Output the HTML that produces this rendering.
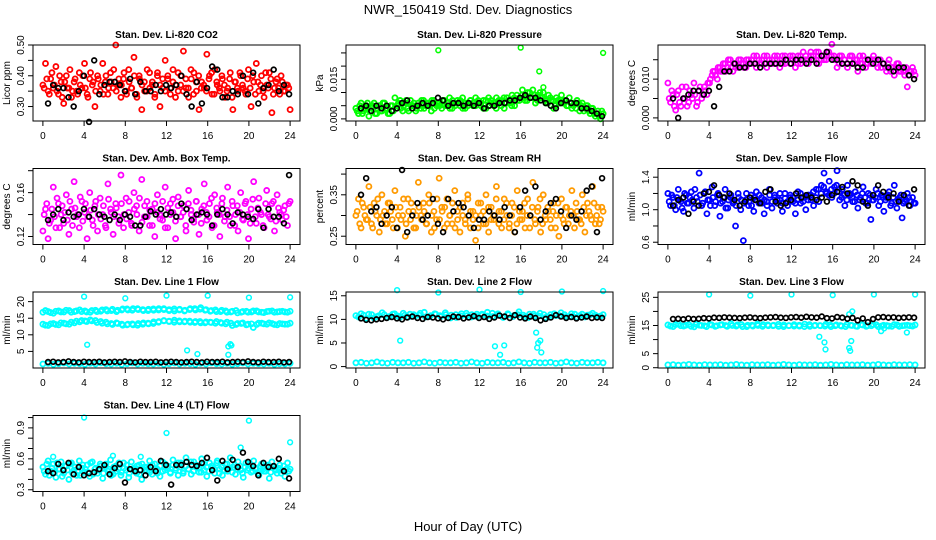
<!DOCTYPE html>
<html><head><meta charset="utf-8"><style>
html,body{margin:0;padding:0;background:#fff;}
svg{display:block;font-family:"Liberation Sans",Arial,sans-serif;}
</style></head><body>
<svg id="chart" width="936" height="540" viewBox="0 0 936 540">
<rect x="0" y="0" width="936" height="540" fill="#fff"/>
<text x="468" y="14" text-anchor="middle" font-size="13">NWR_150419  Std. Dev. Diagnostics</text>
<text x="468" y="531" text-anchor="middle" font-size="13">Hour of Day (UTC)</text>
</svg>
<script>
// ---- data arrays ----
const hourTicks = [0,4,8,12,16,20,24];

const co2Red = [0.37,0.44,0.35,0.39,0.36,0.43,0.34,0.38,0.31,0.40,0.36,0.33,0.38,0.35,0.41,0.36,0.44,0.34,0.39,0.37,0.30,0.40,0.35,0.44,0.38,0.34,0.41,0.36,0.50,0.37,0.33,0.39,0.35,0.42,0.36,0.46,0.34,0.40,0.29,0.38,0.35,0.41,0.37,0.33,0.40,0.30,0.36,0.45,0.39,0.34,0.42,0.37,0.35,0.40,0.48,0.36,0.33,0.39,0.41,0.35,0.29,0.38,0.36,0.47,0.40,0.34,0.42,0.37,0.35,0.39,0.33,0.36,0.41,0.29,0.38,0.35,0.40,0.36,0.34,0.42,0.30,0.38,0.44,0.35,0.40,0.33,0.37,0.41,0.28,0.36,0.39,0.34,0.38,0.35,0.37,0.29];
const co2Red2 = [0.36,0.39,0.34,0.41,0.37,0.35,0.40,0.33,0.38,0.36,0.42,0.35,0.39,0.34,0.37,0.40,0.36,0.33,0.41,0.38,0.35,0.39,0.37,0.34,0.40,0.36,0.38,0.42,0.35,0.39,0.37,0.41,0.34,0.38,0.36,0.40,0.33,0.39,0.37,0.35,0.42,0.36,0.38,0.34,0.41,0.37,0.39,0.35,0.40,0.36,0.38,0.33,0.41,0.37,0.35,0.39,0.36,0.42,0.34,0.38,0.40,0.36,0.37,0.35,0.39,0.41,0.34,0.38,0.36,0.40,0.37,0.35,0.39,0.33,0.38,0.36,0.41,0.37,0.35,0.39,0.36,0.40,0.34,0.38,0.37,0.35,0.41,0.36,0.39,0.34,0.38,0.36,0.40,0.35,0.37,0.36];
const co2Black = [0.31,0.37,0.36,0.36,0.33,0.30,0.35,0.40,0.25,0.45,0.34,0.37,0.38,0.38,0.37,0.35,0.39,0.34,0.38,0.35,0.35,0.37,0.35,0.37,0.36,0.37,0.40,0.34,0.30,0.38,0.31,0.36,0.43,0.42,0.33,0.33,0.35,0.34,0.40,0.34,0.41,0.31,0.36,0.37,0.42,0.35,0.37,0.34];

const presGreen = [0.004,0.002,0.006,0.003,0.005,0.001,0.004,0.006,0.002,0.005,0.003,0.006,0.004,0.002,0.005,0.008,0.005,0.007,0.003,0.006,0.004,0.007,0.005,0.003,0.006,0.004,0.007,0.005,0.006,0.003,0.007,0.005,0.006,0.004,0.007,0.005,0.008,0.004,0.006,0.007,0.005,0.008,0.004,0.006,0.007,0.005,0.008,0.006,0.005,0.007,0.004,0.008,0.006,0.005,0.008,0.006,0.007,0.004,0.008,0.006,0.009,0.005,0.007,0.008,0.011,0.007,0.010,0.008,0.011,0.006,0.009,0.008,0.010,0.006,0.009,0.007,0.004,0.008,0.006,0.009,0.007,0.005,0.008,0.004,0.006,0.007,0.003,0.006,0.004,0.005,0.002,0.004,0.001,0.003,0.000,0.002];
const presGreen2 = [0.003,0.005,0.002,0.004,0.006,0.003,0.005,0.002,0.004,0.003,0.006,0.004,0.002,0.005,0.003,0.004,0.006,0.004,0.005,0.007,0.003,0.005,0.006,0.004,0.005,0.007,0.004,0.006,0.005,0.007,0.004,0.006,0.005,0.007,0.005,0.006,0.004,0.007,0.005,0.006,0.007,0.004,0.006,0.005,0.007,0.006,0.005,0.007,0.006,0.004,0.007,0.005,0.007,0.006,0.004,0.007,0.005,0.008,0.006,0.007,0.005,0.008,0.009,0.007,0.009,0.008,0.007,0.010,0.008,0.009,0.007,0.010,0.008,0.007,0.006,0.008,0.007,0.005,0.007,0.006,0.006,0.007,0.005,0.006,0.005,0.004,0.006,0.005,0.003,0.005,0.003,0.004,0.002,0.002,0.001,0.003];
const presOutHours = [8,16,17.8,24,18.2];
const presOutVals = [0.026,0.027,0.018,0.025,0.012];
const presBlack = [0.004,0.005,0.003,0.005,0.004,0.005,0.003,0.004,0.006,0.007,0.004,0.005,0.006,0.005,0.006,0.008,0.007,0.005,0.006,0.006,0.005,0.006,0.005,0.006,0.004,0.005,0.005,0.006,0.006,0.007,0.007,0.008,0.009,0.008,0.008,0.007,0.006,0.005,0.004,0.006,0.007,0.006,0.006,0.004,0.004,0.003,0.002,0.001];

const tempMag = [0.009,0.004,0.006,0.002,0.007,0.003,0.005,0.008,0.004,0.006,0.009,0.003,0.007,0.005,0.008,0.006,0.009,0.011,0.012,0.010,0.013,0.012,0.014,0.013,0.015,0.012,0.014,0.013,0.015,0.014,0.013,0.015,0.014,0.016,0.013,0.015,0.014,0.016,0.013,0.015,0.014,0.016,0.015,0.013,0.016,0.014,0.015,0.016,0.015,0.013,0.016,0.014,0.017,0.015,0.014,0.016,0.015,0.017,0.014,0.016,0.015,0.017,0.016,0.019,0.015,0.013,0.016,0.014,0.015,0.013,0.016,0.014,0.015,0.012,0.014,0.016,0.013,0.015,0.014,0.016,0.014,0.015,0.013,0.014,0.012,0.015,0.013,0.011,0.014,0.012,0.013,0.011,0.008,0.012,0.013,0.011];
const tempMag2 = [0.005,0.007,0.003,0.006,0.004,0.008,0.005,0.003,0.007,0.005,0.006,0.004,0.008,0.006,0.007,0.009,0.010,0.012,0.011,0.013,0.012,0.014,0.012,0.015,0.013,0.014,0.013,0.015,0.014,0.013,0.015,0.014,0.015,0.014,0.016,0.014,0.015,0.014,0.016,0.014,0.015,0.014,0.016,0.015,0.014,0.016,0.015,0.014,0.016,0.015,0.014,0.016,0.015,0.016,0.015,0.017,0.016,0.015,0.017,0.015,0.016,0.015,0.017,0.016,0.016,0.015,0.014,0.016,0.015,0.014,0.015,0.016,0.014,0.015,0.016,0.014,0.015,0.014,0.015,0.015,0.015,0.013,0.015,0.014,0.013,0.014,0.012,0.013,0.013,0.014,0.012,0.012,0.013,0.011,0.012,0.012];
const tempBlack = [0.005,0.000,0.005,0.006,0.007,0.007,0.006,0.007,0.003,0.008,0.012,0.012,0.014,0.013,0.013,0.014,0.014,0.013,0.014,0.014,0.014,0.014,0.015,0.014,0.015,0.015,0.014,0.015,0.014,0.016,0.017,0.015,0.015,0.014,0.014,0.014,0.013,0.013,0.015,0.014,0.015,0.014,0.013,0.012,0.013,0.013,0.011,0.010];

const ambMag = [0.125,0.145,0.118,0.135,0.165,0.128,0.150,0.140,0.132,0.158,0.122,0.145,0.170,0.138,0.128,0.152,0.142,0.118,0.160,0.135,0.148,0.125,0.155,0.140,0.130,0.168,0.145,0.122,0.150,0.138,0.176,0.128,0.155,0.142,0.132,0.160,0.148,0.125,0.172,0.138,0.152,0.130,0.145,0.120,0.158,0.140,0.135,0.165,0.128,0.150,0.142,0.118,0.156,0.138,0.148,0.125,0.162,0.140,0.133,0.152,0.122,0.145,0.168,0.135,0.150,0.128,0.158,0.142,0.120,0.155,0.138,0.165,0.130,0.148,0.140,0.125,0.160,0.135,0.152,0.118,0.145,0.170,0.132,0.155,0.140,0.128,0.162,0.138,0.150,0.125,0.158,0.142,0.135,0.148,0.130,0.152];
const ambMag2 = [0.140,0.150,0.132,0.145,0.138,0.155,0.128,0.148,0.142,0.135,0.152,0.130,0.146,0.140,0.156,0.134,0.150,0.138,0.144,0.130,0.152,0.140,0.136,0.148,0.128,0.154,0.142,0.138,0.146,0.132,0.150,0.140,0.136,0.152,0.130,0.145,0.140,0.155,0.133,0.148,0.138,0.144,0.130,0.150,0.142,0.136,0.152,0.128,0.146,0.140,0.154,0.134,0.148,0.138,0.142,0.130,0.150,0.144,0.136,0.152,0.140,0.132,0.148,0.142,0.138,0.155,0.130,0.146,0.140,0.150,0.134,0.144,0.138,0.152,0.130,0.148,0.142,0.136,0.150,0.140,0.132,0.154,0.138,0.146,0.142,0.130,0.150,0.140,0.136,0.152,0.134,0.146,0.140,0.144,0.138,0.150];
const ambBlack = [0.135,0.140,0.145,0.135,0.142,0.138,0.140,0.145,0.138,0.145,0.140,0.138,0.135,0.140,0.135,0.140,0.138,0.130,0.130,0.138,0.143,0.140,0.145,0.140,0.142,0.138,0.150,0.145,0.135,0.140,0.142,0.140,0.130,0.140,0.145,0.140,0.132,0.142,0.140,0.138,0.136,0.145,0.128,0.145,0.138,0.138,0.132,0.176];

const rhOrange = [0.30,0.34,0.27,0.32,0.29,0.37,0.28,0.33,0.30,0.26,0.35,0.31,0.28,0.33,0.29,0.36,0.27,0.32,0.30,0.25,0.34,0.29,0.31,0.27,0.38,0.30,0.33,0.28,0.35,0.26,0.31,0.29,0.39,0.32,0.27,0.34,0.30,0.28,0.36,0.31,0.26,0.33,0.29,0.35,0.27,0.31,0.24,0.33,0.30,0.28,0.35,0.26,0.32,0.29,0.37,0.31,0.27,0.34,0.30,0.28,0.33,0.26,0.36,0.29,0.31,0.27,0.34,0.30,0.38,0.28,0.32,0.26,0.35,0.29,0.31,0.27,0.33,0.30,0.25,0.34,0.28,0.32,0.30,0.36,0.27,0.31,0.29,0.35,0.26,0.33,0.30,0.37,0.28,0.32,0.29,0.31];
const rhOrange2 = [0.31,0.28,0.33,0.30,0.29,0.32,0.27,0.31,0.34,0.29,0.30,0.28,0.33,0.31,0.27,0.32,0.30,0.29,0.34,0.28,0.31,0.33,0.27,0.30,0.32,0.29,0.31,0.28,0.33,0.30,0.27,0.34,0.29,0.31,0.32,0.28,0.30,0.33,0.27,0.29,0.32,0.30,0.28,0.34,0.31,0.29,0.30,0.27,0.33,0.31,0.28,0.32,0.29,0.30,0.34,0.28,0.31,0.29,0.33,0.27,0.30,0.32,0.28,0.31,0.29,0.33,0.30,0.27,0.32,0.29,0.31,0.34,0.28,0.30,0.32,0.29,0.31,0.27,0.33,0.30,0.29,0.32,0.28,0.31,0.30,0.33,0.29,0.28,0.32,0.30,0.31,0.29,0.33,0.30,0.28,0.32];
const rhBlack = [0.35,0.39,0.31,0.32,0.28,0.30,0.32,0.27,0.41,0.26,0.30,0.33,0.29,0.30,0.34,0.28,0.26,0.34,0.31,0.33,0.32,0.30,0.27,0.29,0.29,0.31,0.30,0.29,0.32,0.30,0.26,0.32,0.36,0.30,0.37,0.29,0.31,0.33,0.34,0.31,0.27,0.30,0.29,0.31,0.36,0.37,0.26,0.39];

const flowBlue = [1.20,1.05,1.15,1.00,1.25,1.10,0.98,1.18,1.08,1.22,1.02,1.15,1.45,1.05,1.20,0.95,1.12,1.28,1.05,1.18,0.92,1.10,1.25,1.02,1.15,1.08,0.80,1.20,1.00,0.62,1.12,1.05,1.18,0.98,1.22,1.08,1.15,0.95,1.10,1.25,1.02,1.18,1.08,1.12,0.98,1.20,1.05,1.15,1.10,0.95,1.22,1.08,1.15,1.00,1.18,1.12,1.05,1.25,1.10,1.30,1.45,1.20,1.35,1.15,1.28,1.48,1.12,1.25,1.05,1.30,1.18,1.10,1.22,1.02,1.15,1.28,1.08,1.20,0.88,1.12,1.25,1.05,1.18,0.98,1.15,1.22,1.08,1.30,1.02,1.15,0.90,1.10,1.20,1.05,1.15,1.08];
const flowBlue2 = [1.10,1.18,1.05,1.15,1.12,1.02,1.20,1.08,1.15,1.12,1.25,1.10,1.18,1.08,1.22,1.12,1.05,1.15,1.10,1.20,1.08,1.15,1.02,1.12,1.18,1.10,1.05,1.15,1.12,1.08,1.20,1.10,1.05,1.15,1.12,1.18,1.08,1.12,1.05,1.18,1.10,1.15,1.12,1.20,1.08,1.14,1.10,1.18,1.15,1.08,1.12,1.20,1.10,1.16,1.12,1.18,1.22,1.15,1.25,1.20,1.28,1.22,1.18,1.25,1.20,1.30,1.22,1.15,1.18,1.12,1.20,1.15,1.10,1.18,1.12,1.20,1.15,1.08,1.18,1.12,1.15,1.20,1.10,1.15,1.12,1.18,1.05,1.15,1.10,1.12,1.18,1.08,1.12,1.15,1.10,1.08];
const flowBlack = [1.05,1.12,1.15,0.95,1.10,1.05,1.20,1.22,1.30,1.18,1.15,1.20,1.12,1.05,1.10,1.15,1.12,1.08,1.22,1.25,1.10,1.05,1.08,1.12,1.20,1.15,1.18,1.15,1.12,1.15,1.10,1.18,1.22,1.28,1.20,1.35,1.30,1.10,1.05,1.18,1.30,1.22,1.15,1.20,1.10,1.18,1.05,1.25];

const l1Upper = [16.8,17.0,16.5,17.2,16.9,17.3,17.0,17.5,17.2,16.8,17.4,17.1,17.6,17.3,17.0,17.5,17.8,17.4,17.9,17.6,17.3,17.8,17.5,17.9,17.6,17.2,17.7,17.4,17.9,17.5,18.2,17.6,17.3,17.0,17.4,16.8,17.1,16.6,17.0,16.8,17.2,16.9,16.7,17.1,16.8,17.0,16.9,17.1];
const l1Upper2 = [17.3,16.7,17.1,16.9,17.4,16.8,17.2,17.0,16.9,17.3,17.0,17.5,17.2,17.7,17.4,17.8,17.5,17.9,17.6,17.3,17.7,17.4,17.9,17.6,17.3,17.8,17.5,17.2,17.6,17.9,17.7,17.4,17.1,17.5,17.0,17.2,16.9,17.3,16.8,17.1,16.9,17.2,16.8,17.0,17.2,16.9,17.1,16.8];
const l1Lower = [13.2,12.8,13.4,13.0,13.5,13.2,13.6,13.9,14.2,14.5,14.3,14.0,13.8,13.4,13.6,13.2,13.0,13.3,12.9,13.2,13.5,13.4,13.8,14.2,14.0,14.4,13.9,14.1,13.8,14.0,13.6,13.9,13.7,14.0,13.5,13.8,12.8,13.4,13.6,13.2,12.2,13.5,13.3,13.6,13.1,13.4,13.2,13.5];
const l1Lower2 = [12.9,13.3,13.1,13.6,13.3,13.8,14.1,14.3,14.0,14.2,13.7,13.5,13.3,13.1,13.4,12.9,13.2,13.0,13.4,13.6,13.3,13.9,14.0,14.3,14.1,13.8,14.2,13.9,14.1,13.7,14.0,13.6,13.8,13.5,13.7,13.3,13.5,13.1,13.4,13.0,13.3,13.1,13.5,13.2,13.4,13.0,13.3,13.2];
const l1Low = [1.2,1.4,1.1,1.3,1.5,1.2,1.4,1.3,1.1,1.4,1.2,1.5,1.3,1.2,1.4,1.1,1.3,1.5,1.2,1.4,1.3,1.2,1.4,1.1,1.3,1.5,1.2,1.4,1.3,1.1,1.4,1.2,1.5,1.3,1.2,1.4,1.1,1.3,1.5,1.2,1.4,1.3,1.2,1.4,1.1,1.3,1.2,1.4];
const l1OutHours = [4,8,12,16,20,24,4.3,14,15,18,18.2,18,18.3];
const l1OutVals = [21.5,21.0,21.8,21.8,21.2,21.3,7.0,5.3,4.2,6.5,7.2,4.0,6.8];
const l1Black = [1.8,1.9,1.7,1.8,2.0,1.8,1.7,1.9,1.8,1.8,1.9,1.7,1.8,1.9,1.8,2.0,1.8,1.7,1.9,1.8,1.8,1.9,1.7,1.8,1.9,1.8,1.7,1.8,1.9,1.8,1.7,1.9,1.8,1.8,1.9,1.7,1.8,1.9,1.8,2.0,1.8,1.7,1.9,1.8,1.8,1.9,1.7,1.8];

const l2Band = [10.8,11.2,10.2,11.0,10.6,11.4,10.4,11.1,10.7,11.3,10.5,11.0,10.9,11.5,10.6,11.2,10.8,11.4,10.3,11.0,10.7,11.3,10.5,11.1,10.9,11.5,10.6,11.2,10.4,11.0,10.8,11.6,10.5,11.1,10.7,11.3,10.4,11.0,10.8,11.4,10.6,11.2,10.5,11.1,10.9,11.3,10.6,11.0];
const l2Band2 = [10.5,10.9,11.1,10.3,10.8,11.0,10.6,11.2,10.4,10.9,11.1,10.7,11.3,10.5,10.8,11.1,10.6,11.0,10.9,10.4,11.2,10.8,11.0,10.6,11.1,10.7,11.3,10.9,10.5,11.2,10.6,11.0,10.9,10.4,11.1,10.7,11.0,10.5,11.2,10.8,11.0,10.6,11.1,10.8,10.5,11.0,10.9,10.7];
const l2Low = [0.8,0.9,0.7,0.8,1.0,0.8,0.7,0.9,0.8,0.8,0.9,0.7,0.8,1.0,0.8,0.7,0.9,0.8,0.8,0.9,0.7,0.8,1.0,0.8,0.7,0.9,0.8,0.8,0.9,0.7,0.8,1.0,0.8,0.7,0.9,0.8,0.8,0.9,0.7,0.8,1.0,0.8,0.7,0.9,0.8,0.8,0.9,0.8];
const l2OutHours = [4,8,12,16,20,24,4.3,13.5,14.4,14,17.5,17.7,17.9,18,17.6];
const l2OutVals = [16.2,15.7,16.3,15.8,15.9,16.0,5.5,4.3,4.5,2.5,7.2,5.0,5.5,3.0,4.0];
const l2Black = [10.2,9.9,9.8,10.0,10.1,10.3,10.5,10.2,10.0,10.4,10.6,10.3,10.1,10.5,10.4,10.2,10.0,10.3,10.6,10.5,10.2,10.4,10.7,10.3,10.5,10.1,10.4,10.8,10.6,10.3,10.9,10.4,10.2,10.6,10.3,9.8,10.1,10.4,10.9,10.6,10.3,10.5,10.2,10.4,10.6,10.3,10.4,10.3];

const l3Band = [15.2,14.6,15.5,14.8,15.3,14.5,15.1,14.9,15.4,14.7,15.2,15.0,15.6,14.8,15.3,14.6,15.1,15.5,14.7,15.2,14.9,15.4,14.6,15.0,15.3,14.8,15.5,14.7,15.1,14.9,15.4,14.6,15.2,14.8,15.3,15.0,14.7,15.2,14.9,15.4,14.6,15.1,14.8,15.3,14.7,15.0,14.9,15.2];
const l3Band2 = [14.8,15.3,14.9,15.1,14.7,15.4,15.0,14.6,15.2,14.9,15.3,14.7,15.0,15.2,14.6,15.1,14.8,15.0,15.3,14.9,15.1,14.7,15.2,14.9,14.8,15.1,14.6,15.3,14.9,15.0,14.8,15.2,14.9,15.0,14.6,15.1,14.8,15.3,14.7,14.9,15.2,14.8,15.0,14.7,15.2,14.9,15.1,14.8];
const l3Low = [1.0,1.1,0.9,1.0,1.2,1.0,0.9,1.1,1.0,1.0,1.1,0.9,1.0,1.2,1.0,0.9,1.1,1.0,1.0,1.1,0.9,1.0,1.2,1.0,0.9,1.1,1.0,1.0,1.1,0.9,1.0,1.2,1.0,0.9,1.1,1.0,1.0,1.1,0.9,1.0,1.2,1.0,0.9,1.1,1.0,1.0,1.1,1.0];
const l3OutHours = [4,8,12,16,20,24,14.7,15.2,15.3,17.6,17.8,17.7,17.9,20.7,21,23.2,17.6];
const l3OutVals = [26.0,25.6,26.0,25.8,26.0,26.0,11.0,9.0,6.5,7.0,9.5,6.0,20.0,13.0,14.0,12.5,19.0];
const l3Black = [17.3,17.4,17.2,17.5,17.3,17.4,17.6,17.5,17.8,17.7,17.9,17.8,17.7,17.6,17.8,17.9,17.7,17.6,17.8,17.9,18.0,17.8,17.7,17.9,18.0,17.8,18.1,17.9,17.8,18.2,17.6,17.5,18.0,17.8,17.4,17.7,16.8,17.5,16.2,17.3,17.9,18.0,17.8,17.9,17.7,17.8,17.9,17.8];

const l4Cyan = [0.52,0.45,0.58,0.48,0.55,0.42,0.50,0.57,0.46,0.53,0.40,0.56,0.49,0.44,0.58,0.51,0.47,0.54,0.43,0.57,0.50,0.46,0.55,0.41,0.52,0.48,0.59,0.45,0.53,0.50,0.44,0.56,0.49,0.42,0.57,0.51,0.46,0.54,0.40,0.52,0.48,0.58,0.45,0.55,0.50,0.43,0.57,0.49,0.53,0.46,0.59,0.51,0.44,0.56,0.48,0.61,0.50,0.45,0.57,0.52,0.47,0.60,0.49,0.43,0.56,0.51,0.46,0.58,0.50,0.44,0.55,0.48,0.61,0.52,0.45,0.57,0.49,0.42,0.56,0.51,0.47,0.58,0.50,0.44,0.55,0.48,0.53,0.41,0.57,0.50,0.46,0.54,0.49,0.43,0.56,0.50];
const l4Cyan2 = [0.48,0.55,0.44,0.51,0.47,0.56,0.50,0.43,0.53,0.49,0.55,0.46,0.52,0.48,0.44,0.54,0.50,0.47,0.56,0.45,0.51,0.49,0.53,0.46,0.55,0.50,0.44,0.52,0.48,0.56,0.47,0.51,0.54,0.46,0.50,0.48,0.53,0.45,0.55,0.49,0.52,0.47,0.54,0.50,0.46,0.53,0.48,0.55,0.51,0.47,0.54,0.49,0.56,0.52,0.46,0.53,0.50,0.57,0.48,0.54,0.51,0.47,0.55,0.52,0.48,0.53,0.50,0.56,0.46,0.52,0.49,0.55,0.51,0.47,0.54,0.50,0.53,0.46,0.52,0.49,0.55,0.48,0.51,0.46,0.53,0.50,0.48,0.54,0.47,0.52,0.49,0.51,0.46,0.53,0.50,0.48];
const l4OutHours = [4,20,12,24,19.2,6.8,1,9.5];
const l4OutVals = [1.00,0.97,0.85,0.76,0.71,0.63,0.62,0.62];
const l4Black = [0.48,0.46,0.55,0.49,0.56,0.45,0.52,0.44,0.46,0.47,0.50,0.54,0.45,0.51,0.55,0.37,0.50,0.48,0.49,0.44,0.52,0.48,0.58,0.54,0.35,0.54,0.54,0.57,0.54,0.53,0.56,0.61,0.49,0.39,0.58,0.50,0.59,0.52,0.66,0.57,0.53,0.44,0.56,0.52,0.53,0.60,0.48,0.41];

// ---- layout ----
const svg = document.getElementById('chart');
const NS = 'http://www.w3.org/2000/svg';
const colX = [33, 346, 658];
const rowY = [45, 168.5, 292, 415.5];
const PW = 267, PH = 76;

function mk(tag, attrs, parent) {
  const e = document.createElementNS(NS, tag);
  for (const k in attrs) e.setAttribute(k, attrs[k]);
  (parent || svg).appendChild(e);
  return e;
}

function panel(p) {
  const x0 = colX[p.col], y0 = rowY[p.row];
  const g = mk('g', {});
  
  
  const xs = h => x0 + (h + 0.96) / 25.92 * PW;
  const ys = v => y0 + PH - (v - p.ymin) / (p.ymax - p.ymin) * PH;

  const t = mk('text', {x: x0 + PW / 2, y: y0 - 7, 'text-anchor': 'middle', 'font-size': 10, 'font-weight': 'bold'}, g);
  t.textContent = p.title;
  
  

  const pts = mk('g', {fill: 'none'}, g);
  
  
  function drawSeries(vals, color, r, sw, hoursArr, half) {
    const n = vals.length;
    for (let i = 0; i < n; i++) {
      let h;
      if (hoursArr) h = hoursArr[i];
      else if (half) h = (i + 0.5) * 24 / n;
      else h = n > 1 ? i * 24 / (n - 1) : 0;
      const c = mk('circle', {cx: xs(h), cy: ys(vals[i]), r: r, stroke: color, 'stroke-width': sw}, pts);
      
      
    }
  }
  p.series.forEach(s => drawSeries(s.vals, s.color, 2.5, 1.8, null, !!s.half));
  if (p.outV) drawSeries(p.outV, p.outColor, 2.4, 1.5, p.outH, false);
  const bh = p.black.map((v, i) => 0.5 + i * 23.4 / (p.black.length - 1));
  drawSeries(p.black, '#000', 2.4, 1.7, bh, false);

  const box = mk('rect', {x: x0, y: y0, width: PW, height: PH, fill: 'none', stroke: '#000', 'stroke-width': 1}, g);
  
  

  const xa = mk('g', {stroke: '#000', 'stroke-width': 1}, g);
  
  
  mk('line', {x1: xs(0), x2: xs(24), y1: y0 + PH, y2: y0 + PH}, xa);
  hourTicks.forEach(h => {
    mk('line', {x1: xs(h), x2: xs(h), y1: y0 + PH, y2: y0 + PH + 5}, xa);
    const lt = mk('text', {x: xs(h), y: y0 + PH + 18, 'text-anchor': 'middle', 'font-size': 10, stroke: 'none'}, xa);
    lt.textContent = h;
    
    
  });

  const ya = mk('g', {stroke: '#000', 'stroke-width': 1}, g);
  
  
  mk('line', {x1: x0, x2: x0, y1: ys(p.ticks[0]), y2: ys(p.ticks[p.ticks.length - 1])}, ya);
  p.ticks.forEach(v => mk('line', {x1: x0, x2: x0 - 5, y1: ys(v), y2: ys(v)}, ya));
  p.labels.forEach((lab, i) => {
    const yy = ys(p.labelVals[i]);
    const lt = mk('text', {x: x0 - 9, y: yy, 'text-anchor': 'middle', 'font-size': 10, stroke: 'none', transform: `rotate(-90 ${x0 - 9} ${yy})`}, ya);
    lt.textContent = lab;
    
    
  });
  const yl = mk('text', {x: x0 - 23, y: y0 + PH / 2, 'text-anchor': 'middle', 'font-size': 10, transform: `rotate(-90 ${x0 - 23} ${y0 + PH / 2})`}, g);
  yl.textContent = p.ylab;
  
  
}

panel({name:'co2-panel', col:0,row:0,title:'Stan. Dev. Li-820 CO2',ylab:'Licor ppm',ymin:0.253,ymax:0.50,
  ticks:[0.30,0.35,0.40,0.45,0.50],labels:['0.30','0.40','0.50'],labelVals:[0.30,0.40,0.50],
  series:[{vals:co2Red,color:'#ff0000'},{vals:co2Red2,color:'#ff0000',half:true}],black:co2Black});
panel({name:'pressure-panel', col:1,row:0,title:'Stan. Dev. Li-820 Pressure',ylab:'kPa',ymin:-0.0008,ymax:0.028,
  ticks:[0,0.005,0.010,0.015,0.020,0.025],labels:['0.000','0.015'],labelVals:[0,0.015],
  series:[{vals:presGreen,color:'#00ff00'},{vals:presGreen2,color:'#00ff00',half:true}],outV:presOutVals,outH:presOutHours,outColor:'#00ff00',black:presBlack});
panel({name:'temp-panel', col:2,row:0,title:'Stan. Dev. Li-820 Temp.',ylab:'degrees C',ymin:-0.0008,ymax:0.0188,
  ticks:[0,0.005,0.010,0.015],labels:['0.000','0.010'],labelVals:[0,0.010],
  series:[{vals:tempMag,color:'#ff00ff'},{vals:tempMag2,color:'#ff00ff',half:true}],black:tempBlack});
panel({name:'amb-box-temp-panel', col:0,row:1,title:'Stan. Dev. Amb. Box Temp.',ylab:'degrees C',ymin:0.1127,ymax:0.182,
  ticks:[0.12,0.14,0.16,0.18],labels:['0.12','0.16'],labelVals:[0.12,0.16],
  series:[{vals:ambMag,color:'#ff00ff'},{vals:ambMag2,color:'#ff00ff',half:true}],black:ambBlack});
panel({name:'gas-stream-rh-panel', col:1,row:1,title:'Stan. Dev. Gas Stream RH',ylab:'percent',ymin:0.23,ymax:0.4135,
  ticks:[0.25,0.30,0.35,0.40],labels:['0.25','0.35'],labelVals:[0.25,0.35],
  series:[{vals:rhOrange,color:'#ff9a00'},{vals:rhOrange2,color:'#ff9a00',half:true}],black:rhBlack});
panel({name:'sample-flow-panel', col:2,row:1,title:'Stan. Dev. Sample Flow',ylab:'ml/min',ymin:0.572,ymax:1.507,
  ticks:[0.6,0.8,1.0,1.2,1.4],labels:['0.6','1.0','1.4'],labelVals:[0.6,1.0,1.4],
  series:[{vals:flowBlue,color:'#0000ff'},{vals:flowBlue2,color:'#0000ff',half:true}],black:flowBlack});
panel({name:'line1-flow-panel', col:0,row:2,title:'Stan. Dev. Line 1 Flow',ylab:'ml/min',ymin:0.0,ymax:22.9,
  ticks:[5,10,15,20],labels:['5','10','15','20'],labelVals:[5,10,15,20],
  series:[{vals:l1Upper,color:'#00ffff'},{vals:l1Upper2,color:'#00ffff',half:true},{vals:l1Lower,color:'#00ffff'},{vals:l1Lower2,color:'#00ffff',half:true},{vals:l1Low,color:'#00ffff'}],
  outV:l1OutVals,outH:l1OutHours,outColor:'#00ffff',black:l1Black});
panel({name:'line2-flow-panel', col:1,row:2,title:'Stan. Dev. Line 2 Flow',ylab:'ml/min',ymin:-0.3,ymax:15.8,
  ticks:[0,5,10,15],labels:['0','5','10','15'],labelVals:[0,5,10,15],
  series:[{vals:l2Band,color:'#00ffff'},{vals:l2Band2,color:'#00ffff',half:true},{vals:l2Low,color:'#00ffff'}],
  outV:l2OutVals,outH:l2OutHours,outColor:'#00ffff',black:l2Black});
panel({name:'line3-flow-panel', col:2,row:2,title:'Stan. Dev. Line 3 Flow',ylab:'ml/min',ymin:-0.1,ymax:26.9,
  ticks:[0,5,10,15,20,25],labels:['0','5','15','25'],labelVals:[0,5,15,25],
  series:[{vals:l3Band,color:'#00ffff'},{vals:l3Band2,color:'#00ffff',half:true},{vals:l3Low,color:'#00ffff'}],
  outV:l3OutVals,outH:l3OutHours,outColor:'#00ffff',black:l3Black});
panel({name:'line4-flow-panel', col:0,row:3,title:'Stan. Dev. Line 4 (LT) Flow',ylab:'ml/min',ymin:0.283,ymax:1.02,
  ticks:[0.3,0.4,0.5,0.6,0.7,0.8,0.9,1.0],labels:['0.3','0.6','0.9'],labelVals:[0.3,0.6,0.9],
  series:[{vals:l4Cyan,color:'#00ffff'},{vals:l4Cyan2,color:'#00ffff',half:true}],outV:l4OutVals,outH:l4OutHours,outColor:'#00ffff',black:l4Black});
</script>
</body></html>
